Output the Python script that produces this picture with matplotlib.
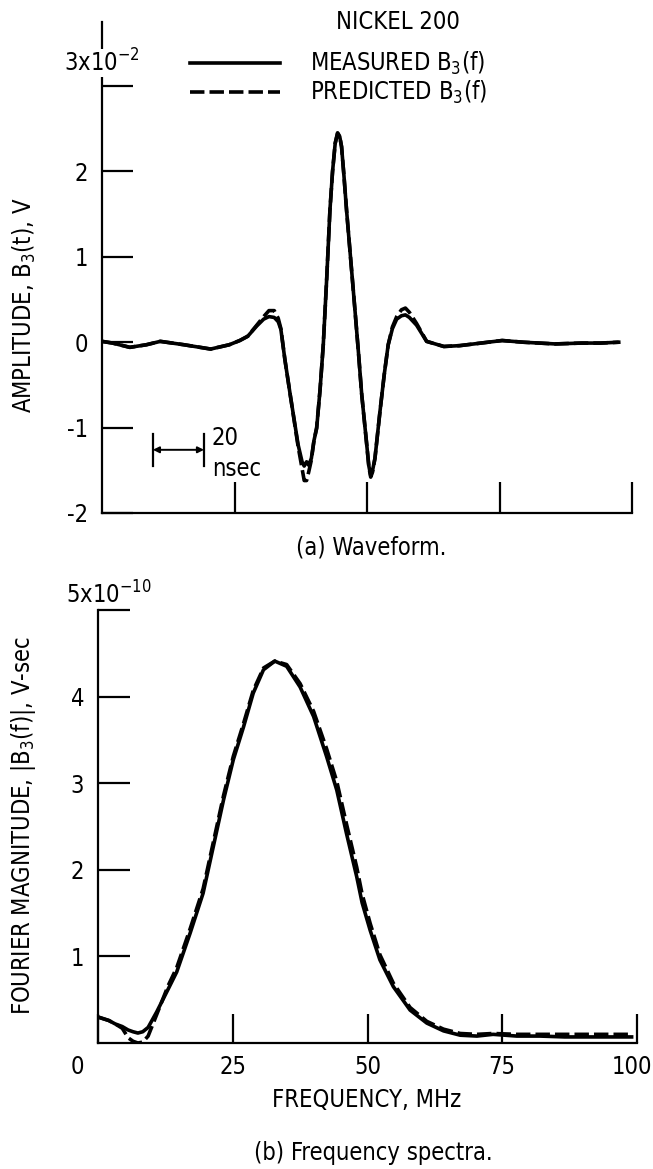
import numpy as np
import matplotlib
matplotlib.use("Agg")
from matplotlib import pyplot as plt
from matplotlib import font_manager as fm
from matplotlib.transforms import ScaledTranslation

# (a) waveform, time in nsec, amplitude in 10^-2 V
t_ns = [0, 4, 10.5, 16.7, 22, 31, 41, 48, 52, 55, 58.4, 61, 63, 65, 66.5, 67.5,
        69, 71, 74, 75.5, 76.3, 77.2, 78, 79, 80, 81, 82.3, 83.5, 84.8, 86, 87,
        88, 88.9, 89.7, 90.4, 91.3, 92.3, 93.9, 95.5, 96.8, 98, 99.9, 100.7, 101.4,
        102.1, 103, 104.9, 106.5, 108, 109.6, 111.2, 113, 114.5, 116, 118.7, 122.5,
        129, 135, 143, 151, 159, 171, 181, 188, 195]
measured_b3t = [0.01, -0.01, -0.06, -0.03, 0.01, -0.03, -0.08, -0.03, 0.02, 0.07, 0.19,
                0.27, 0.30, 0.29, 0.24, 0.15, -0.2, -0.61, -1.2, -1.40, -1.45, -1.40, -1.44,
                -1.36, -1.15, -1.01, -0.55, -0.03, 0.75, 1.54, 2.0, 2.33, 2.45, 2.41, 2.29,
                1.95, 1.54, 0.95, 0.36, -0.13, -0.61, -1.2, -1.45, -1.56, -1.50, -1.36,
                -0.81, -0.38, -0.03, 0.16, 0.27, 0.31, 0.32, 0.29, 0.2, 0.01, -0.05, -0.04,
                -0.01, 0.02, 0.0, -0.02, -0.01, -0.01, 0.0]
predicted_b3t = [0.01, -0.01, -0.06, -0.03, 0.01, -0.03, -0.08, -0.03, 0.02, 0.07, 0.2,
                 0.3, 0.37, 0.37, 0.28, 0.16, -0.2, -0.61, -1.22, -1.48, -1.62, -1.62, -1.52,
                 -1.38, -1.15, -1.0, -0.55, -0.03, 0.75, 1.54, 2.0, 2.33, 2.45, 2.41, 2.29,
                 1.95, 1.54, 0.95, 0.36, -0.13, -0.61, -1.2, -1.46, -1.58, -1.52, -1.36,
                 -0.81, -0.38, -0.03, 0.18, 0.3, 0.38, 0.40, 0.35, 0.22, 0.01, -0.05, -0.04,
                 -0.01, 0.02, 0.0, -0.02, -0.01, -0.01, 0.0]

# (b) spectra, frequency in MHz, magnitude in 10^-10 V-sec
freq = [0, 2, 3.2, 4.5, 5.6, 6.5, 7.4, 8.3, 9.3, 10.9, 13, 14.6, 17.1, 19.5, 21.4,
        23.3, 25.1, 27, 28.8, 30.7, 32.8, 35, 37.5, 40, 42.4, 44.3, 46.1, 48, 49,
        50.5, 52.3, 54.8, 57.9, 61, 64.1, 67.2, 70.3, 73.3, 77.7, 82, 86.6, 92, 99]
measured_mag = [0.30, 0.26, 0.22, 0.19, 0.15, 0.13, 0.115, 0.13, 0.18, 0.36, 0.62, 0.82,
                1.27, 1.73, 2.27, 2.81, 3.27, 3.65, 4.04, 4.31, 4.41, 4.35, 4.11, 3.77,
                3.31, 2.92, 2.42, 1.92, 1.62, 1.3, 0.96, 0.65, 0.38, 0.23, 0.14, 0.09,
                0.08, 0.10, 0.08, 0.08, 0.07, 0.07, 0.07]
predicted_mag = [0.30, 0.26, 0.22, 0.17, 0.06, 0.02, 0.0, 0.01, 0.08, 0.33, 0.66, 0.87,
                 1.32, 1.78, 2.32, 2.86, 3.31, 3.69, 4.07, 4.33, 4.41, 4.37, 4.15, 3.83,
                 3.40, 3.02, 2.53, 2.03, 1.72, 1.38, 1.02, 0.69, 0.41, 0.25, 0.16, 0.11,
                 0.1, 0.11, 0.1, 0.1, 0.1, 0.1, 0.1]

# pick a narrow sans if one is installed, the original lettering is condensed
fonts = fm.fontManager.ttflist
names = {f.name for f in fonts}
fs = 17
if 'Liberation Sans Narrow' in names:
    plt.rcParams['font.family'] = ['Liberation Sans Narrow', 'DejaVu Sans']
elif any(f.name == 'DejaVu Sans' and f.stretch == 'condensed' for f in fonts):
    plt.rcParams['font.family'] = ['DejaVu Sans']
    plt.rcParams['font.stretch'] = 'condensed'
else:
    plt.rcParams['font.family'] = ['DejaVu Sans']
    fs = 15
plt.rcParams['mathtext.default'] = 'regular'

W, H = 653, 1169
fig = plt.figure(figsize=(W / 100, H / 100), dpi=100)
lw = 2.6
dash = (4, 1.4)

def px_axes(x0, x1, ytop, ybot):
    return fig.add_axes([x0 / W, 1 - ybot / H, (x1 - x0) / W, (ybot - ytop) / H])

# ---- top: waveform
ax1 = px_axes(102, 632, 22, 513)
ax1.plot(t_ns, predicted_b3t, color='black', lw=lw, ls=(0, dash))
ax1.plot(t_ns, measured_b3t, color='black', lw=lw)
ax1.set_xlim(0, 200)
ax1.set_ylim(-2, 3.75)
for s in ['top', 'right']:
    ax1.spines[s].set_visible(False)
ax1.spines['left'].set_bounds(-2, 3.75)
for s in ['left', 'bottom']:
    ax1.spines[s].set_linewidth(1.6)
ax1.set_xticks([50, 100, 150, 200])
ax1.set_xticklabels([])
ax1.set_yticks([-2, -1, 0, 1, 2, 3])
ax1.set_yticklabels(['-2', '-1', '0', '1', '2', ''])
ax1.tick_params(axis='x', direction='in', length=22, width=1.6)
ax1.tick_params(axis='y', direction='in', length=22, width=1.6, pad=10, labelsize=fs)
ax1.text(0, 3.27, '3x10$^{-2}$', ha='center', va='center', fontsize=fs,
         bbox=dict(facecolor='white', edgecolor='none', pad=0.5), clip_on=False)

# 20 nsec scale bar
ax1.plot([19.2, 19.2], [-1.07, -1.45], color='black', lw=1.6)
ax1.plot([38.5, 38.5], [-1.07, -1.45], color='black', lw=1.6)
ax1.annotate('', xy=(19.2, -1.26), xytext=(38.5, -1.26),
             arrowprops=dict(arrowstyle='<|-|>', color='black', lw=1.4,
                             mutation_scale=9, shrinkA=0, shrinkB=0))
ax1.text(41.5, -1.12, '20', fontsize=fs, ha='left', va='center')
ax1.text(41.5, -1.48, 'nsec', fontsize=fs, ha='left', va='center')

# legend drawn by hand as in the original
fig.text(398 / W, 1 - 22 / H, 'NICKEL 200', fontsize=fs, ha='center', va='center')
fig.add_artist(plt.Line2D([190 / W, 280 / W], [1 - 63 / H] * 2, color='black', lw=lw))
fig.add_artist(plt.Line2D([190 / W, 280 / W], [1 - 92 / H] * 2, color='black', lw=lw,
                          ls=(0, dash)))
fig.text(310 / W, 1 - 63 / H, 'MEASURED B$_3$(f)', fontsize=fs, ha='left', va='center')
fig.text(310 / W, 1 - 92 / H, 'PREDICTED B$_3$(f)', fontsize=fs, ha='left', va='center')

fig.text(24 / W, 1 - 305 / H, 'AMPLITUDE, B$_3$(t), V', rotation=90, fontsize=fs,
         ha='center', va='center')
fig.text(371 / W, 1 - 547 / H, '(a) Waveform.', fontsize=fs, ha='center', va='center')

# ---- bottom: spectra
ax2 = px_axes(98, 637, 610, 1043)
ax2.plot(freq, predicted_mag, color='black', lw=lw, ls=(0, dash))
ax2.plot(freq, measured_mag, color='black', lw=lw)
ax2.set_xlim(0, 100)
ax2.set_ylim(0, 5)
for s in ['top', 'right']:
    ax2.spines[s].set_visible(False)
for s in ['left', 'bottom']:
    ax2.spines[s].set_linewidth(1.6)
ax2.set_xticks([0, 25, 50, 75, 100])
ax2.set_xticklabels(['0', '25', '50', '75', '100'])
ax2.set_yticks([1, 2, 3, 4, 5])
ax2.set_yticklabels(['1', '2', '3', '4', ''])
ax2.tick_params(axis='x', direction='in', length=21, width=1.6, pad=9, labelsize=fs)
ax2.tick_params(axis='y', direction='in', length=23, width=1.6, pad=10, labelsize=fs)
xlabs = ax2.get_xticklabels()
xlabs[0].set_transform(xlabs[0].get_transform() + ScaledTranslation(-0.21, 0, fig.dpi_scale_trans))
xlabs[-1].set_ha('right')
xlabs[-1].set_transform(xlabs[-1].get_transform() + ScaledTranslation(0.15, 0, fig.dpi_scale_trans))
ax2.text(2.0, 5.17, '5x10$^{-10}$', fontsize=fs, ha='center', va='center', clip_on=False)

fig.text(367 / W, 1 - 1100 / H, 'FREQUENCY, MHz', fontsize=fs, ha='center', va='center')
fig.text(24 / W, 1 - 826 / H, 'FOURIER MAGNITUDE, |B$_3$(f)|, V-sec', rotation=90,
         fontsize=fs, ha='center', va='center')
fig.text(373 / W, 1 - 1153 / H, '(b) Frequency spectra.', fontsize=fs, ha='center',
         va='center')

fig.savefig('out.png', dpi=100)
